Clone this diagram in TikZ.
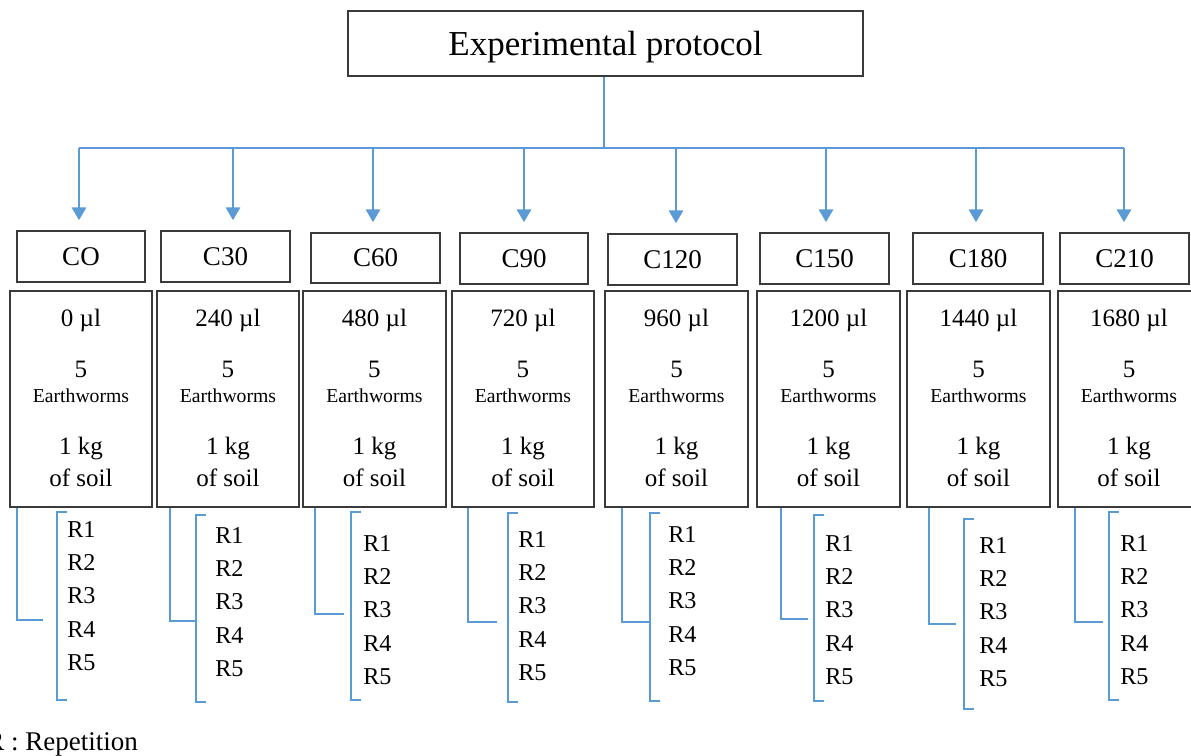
\documentclass[tikz,border=0pt]{standalone}
\usepackage{fontspec}
\setmainfont{Liberation Serif}
\usetikzlibrary{arrows.meta,calc}
\definecolor{lineblue}{HTML}{5B9BD5}
\definecolor{boxgray}{HTML}{3A3A3A}
\begin{document}
\begin{tikzpicture}[x=0.025cm,y=-0.025cm,
  boxstyle/.style={draw=boxgray,line width=1.2pt,inner sep=0pt,fill=white},
  titlebox/.style={boxstyle,font=\fontsize{24.9}{28}\selectfont,text depth=0pt},
  cbox/.style={boxstyle,font=\fontsize{19.2}{22}\selectfont},
  bigbox/.style={boxstyle},
  valtext/.style={anchor=base,inner sep=0pt,font=\fontsize{17.8}{20}\selectfont},
  smalltext/.style={anchor=base,inner sep=0pt,font=\fontsize{14}{16}\selectfont},
  rtext/.style={anchor=base west,inner sep=0pt,font=\fontsize{17.2}{20}\selectfont},
  legendtext/.style={anchor=base west,inner sep=0pt,font=\fontsize{19.2}{22}\selectfont},
  blueline/.style={draw=lineblue,line width=1.4pt},
  bluearrow/.style={blueline,-{Triangle[width=0.36cm,length=0.32cm]},shorten >=0.25cm}
]
\useasboundingbox (0,0) rectangle (1191,756);

% title
\node[titlebox,minimum width=12.875cm,minimum height=1.625cm] (top) at (605.5,43.5) {Experimental protocol};

% bus
\coordinate (bus) at (604,148);
\foreach \i/\ax in {1/79,2/233,3/373,4/524,5/676,6/826,7/976,8/1124}
  \coordinate (h\i) at (\ax,148);
\draw[blueline] (top.south -| bus) -- (bus);
\draw[blueline] (h1) -- (h8);

% group label boxes
\foreach \i/\cx/\cy/\w/\h/\lab in {
  1/81/256.5/128/51/CO,
  2/225.5/256.5/129/51/C30,
  3/375.5/258/129/50/C60,
  4/524/258.5/128/51/C90,
  5/672.5/259.5/129/51/C120,
  6/824.5/258.5/129/51/C150,
  7/978/258.5/130/51/C180,
  8/1124.5/258.5/129/51/C210}
  \node[cbox,minimum width={\w*0.025cm},minimum height={\h*0.025cm}] (c\i) at (\cx,\cy) {\lab};

% arrows
\foreach \i in {1,...,8}
  \draw[bluearrow] (h\i) -- (h\i |- c\i.north);

% big boxes
\foreach \i/\bx/\bw/\vol in {
  1/81/142/0,
  2/228/142/240,
  3/374.5/143/480,
  4/523/142/720,
  5/676.5/143/960,
  6/828.5/143/1200,
  7/978.5/143/1440,
  8/1129/142/1680}
{
  \node[bigbox,minimum width={\bw*0.025cm},minimum height=5.4cm] (b\i) at (\bx,399) {};
  \node[valtext] (v\i) at (\bx,326) {\vol{} µl};
  \node[valtext] (n\i) at (\bx,377) {5};
  \node[smalltext] (e\i) at (\bx,402) {Earthworms};
  \node[valtext] (k\i) at (\bx,454) {1 kg};
  \node[valtext] (s\i) at (\bx,486) {of soil};
}

% repetition brackets
\foreach \i/\lx/\lb/\lh/\bx/\bt/\bb/\rx/\ry in {
  1/17/620/43/57/512/700/67/529,
  2/170/621/197/196/515/702/215/535,
  3/315/614/344/351/512/700/363/543,
  4/468/622/497/508/513/702/518/539,
  5/622/622/650/650/513/701/668/534,
  6/781/619/808/814/515/701/825/543,
  7/929/624/956/964/519/709/979/545,
  8/1075/622/1103/1109/512/700/1120/543}
{
  \coordinate (L\i) at (\lx,\lb);
  \draw[blueline] (b\i.south -| L\i) -- (L\i) -- (\lh,\lb);
  \draw[blueline] ({\bx+10},\bt) -- (\bx,\bt) -- (\bx,\bb) -- ({\bx+10},\bb);
  \foreach \k in {1,...,5}
    \node[rtext] (r\i-\k) at (\rx,{\ry+8+(\k-1)*33.4}) {R\k};
}

% legend
\node[legendtext] (legend) at (-14,750) {R : Repetition};
\end{tikzpicture}
\end{document}
